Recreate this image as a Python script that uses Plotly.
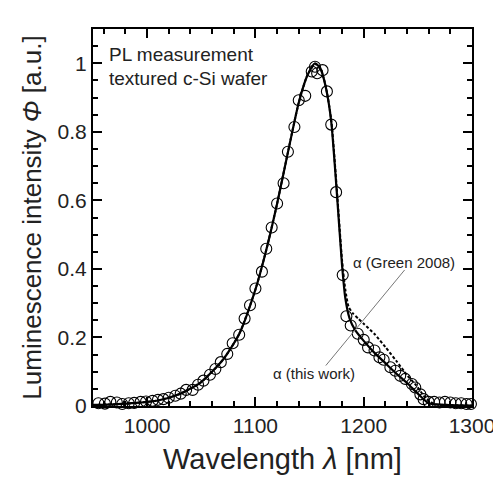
import plotly.graph_objects as go

# Measured PL (circles)
meas_wl = [955, 961, 966, 972, 977, 983, 988, 994, 999, 1005, 1010, 1015, 1020, 1026,
           1031, 1036, 1042, 1047, 1052, 1058, 1063, 1068, 1074, 1079, 1085, 1090, 1095,
           1100, 1106, 1110, 1115, 1120, 1126, 1130, 1136, 1140, 1146, 1152, 1155, 1157,
           1162, 1166, 1170, 1174.5, 1180.6, 1184, 1188, 1194.5, 1200, 1204, 1210, 1214.5,
           1218.4, 1224.6, 1229.2, 1233.7, 1238.4, 1244.5, 1247.6, 1252.3, 1255.3, 1260,
           1265, 1270, 1275, 1280, 1285, 1290, 1295, 1299]
meas_phi = [0.008, 0.007, 0.012, 0.010, 0.006, 0.008, 0.009, 0.012, 0.013, 0.015, 0.018,
            0.020, 0.024, 0.030, 0.036, 0.047, 0.047, 0.062, 0.074, 0.091, 0.108, 0.128,
            0.152, 0.183, 0.208, 0.255, 0.294, 0.343, 0.392, 0.459, 0.521, 0.591, 0.650,
            0.742, 0.814, 0.892, 0.905, 0.976, 0.990, 0.971, 0.980, 0.918, 0.821, 0.624,
            0.382, 0.262, 0.235, 0.211, 0.193, 0.171, 0.162, 0.142, 0.135, 0.113, 0.103,
            0.088, 0.079, 0.064, 0.054, 0.034, 0.020, 0.012, 0.012, 0.010, 0.012, 0.010,
            0.008, 0.008, 0.006, 0.006]

# Simulation with alpha (this work) - solid
work_wl = [950, 970, 990, 1010, 1030, 1050, 1070, 1085, 1100, 1110, 1120, 1130, 1140,
           1148, 1155, 1160, 1165, 1170, 1175, 1180, 1183, 1187, 1192, 1200, 1210, 1220,
           1230, 1240, 1250, 1260, 1270, 1285, 1300]
work_phi = [0.003, 0.005, 0.009, 0.016, 0.035, 0.070, 0.135, 0.210, 0.340, 0.455, 0.590,
            0.740, 0.885, 0.965, 1.000, 0.985, 0.930, 0.830, 0.630, 0.410, 0.315, 0.255,
            0.222, 0.190, 0.155, 0.125, 0.095, 0.067, 0.036, 0.008, 0.004, 0.002, 0.001]

# Simulation with alpha (Green 2008) - dashed
green_wl = [950, 970, 990, 1010, 1030, 1050, 1070, 1085, 1100, 1110, 1120, 1130, 1140,
            1148, 1155, 1160, 1165, 1170, 1175, 1180, 1183, 1186, 1190, 1195, 1200, 1210,
            1220, 1230, 1240, 1248, 1257, 1265, 1280, 1300]
green_phi = [0.003, 0.005, 0.009, 0.016, 0.035, 0.070, 0.135, 0.210, 0.340, 0.455, 0.590,
             0.740, 0.885, 0.965, 0.998, 0.985, 0.932, 0.835, 0.640, 0.425, 0.340, 0.290,
             0.270, 0.255, 0.240, 0.210, 0.172, 0.132, 0.090, 0.062, 0.024, 0.006, 0.003,
             0.001]

x_ticks = [1000, 1100, 1200, 1300]
y_ticks = [0, 0.2, 0.4, 0.6, 0.8, 1]
y_ticklabels = ["0", "0.2", "0.4", "0.6", "0.8", "1"]

FONT = "Liberation Sans, Arial, sans-serif"
FRAME = "black"

fig = go.Figure()
fig.add_trace(go.Scatter(x=meas_wl, y=meas_phi, mode="markers",
                         marker=dict(symbol="circle-open", size=11, color="black",
                                     line=dict(width=1.1, color="black")),
                         showlegend=False, cliponaxis=False))
fig.add_trace(go.Scatter(x=green_wl, y=green_phi, mode="lines",
                         line=dict(color="black", width=2, dash="3px,2px", shape="spline",
                                   smoothing=0.6),
                         showlegend=False))
fig.add_trace(go.Scatter(x=work_wl, y=work_phi, mode="lines",
                         line=dict(color="black", width=2.2, shape="spline", smoothing=0.6),
                         showlegend=False))

axis_common = dict(showline=True, linecolor=FRAME, linewidth=2, mirror="ticks",
                   ticks="inside", ticklen=9, tickwidth=2, tickcolor=FRAME,
                   showgrid=False, zeroline=False, automargin=False,
                   tickfont=dict(family=FONT, size=21, color="#222"))

fig.update_xaxes(range=[950, 1300], tickvals=x_ticks,
                 minor=dict(tickvals=list(range(960, 1300, 20)), ticks="inside", ticklen=5,
                            tickwidth=1.5, tickcolor=FRAME, showgrid=False),
                 title=dict(text="Wavelength <i>λ</i> [nm]",
                            font=dict(family=FONT, size=29, color="#222"), standoff=12),
                 **axis_common)
fig.update_yaxes(range=[0, 1.1], tickvals=y_ticks, ticktext=y_ticklabels,
                 minor=dict(tickvals=[i * 0.05 for i in range(1, 22)], ticks="inside",
                            ticklen=5, tickwidth=1.5, tickcolor=FRAME, showgrid=False),
                 title=dict(text="Luminescence intensity <i>Φ</i> [a.u.]",
                            font=dict(family=FONT, size=26, color="#222"), standoff=8),
                 **axis_common)

fig.add_annotation(xref="paper", yref="paper", x=0.037, y=0.932, xanchor="left",
                   yanchor="middle", showarrow=False, text="PL measurement",
                   font=dict(family=FONT, size=19, color="#222"))
fig.add_annotation(xref="paper", yref="paper", x=0.037, y=0.870, xanchor="left",
                   yanchor="middle", showarrow=False, text="textured c-Si wafer",
                   font=dict(family=FONT, size=19, color="#222"))
fig.add_annotation(x=1237.5, y=0.42, showarrow=False, text="α (Green 2008)",
                   font=dict(family=FONT, size=15, color="#222"))
fig.add_annotation(x=1154, y=0.094, showarrow=False, text="α (this work)",
                   font=dict(family=FONT, size=15, color="#222"))
fig.add_shape(type="line", x0=1237.8, y0=0.397, x1=1165, y1=0.118,
              line=dict(color="#777", width=1))

# page body adds an 8px offset, so the figure is 8px smaller and margins compensate
fig.update_layout(width=493, height=475, margin=dict(l=85, r=29, t=21, b=77),
                  plot_bgcolor="white", paper_bgcolor="white",
                  font=dict(family=FONT, color="#222"))

fig.write_html("out.html")
